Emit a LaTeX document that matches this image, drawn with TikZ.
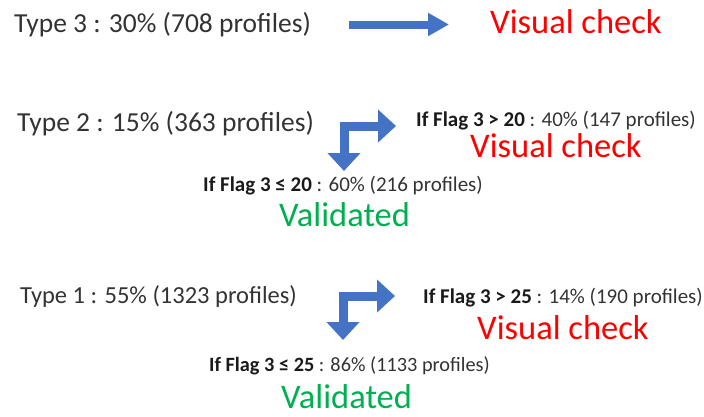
\documentclass[tikz,border=0pt]{standalone}
\usepackage{fontspec}
\setmainfont{Carlito}
\usetikzlibrary{arrows.meta}
\definecolor{txt}{HTML}{333333}
\definecolor{boldtxt}{HTML}{1A1A1A}
\definecolor{vred}{HTML}{FF0000}
\definecolor{vgreen}{HTML}{00B050}
\definecolor{arrblue}{HTML}{4472C4}
\tikzset{
  typelbl/.style={anchor=base west, inner sep=0pt, text=txt, font=\fontsize{27.5}{30}\selectfont},
  condlbl/.style={anchor=base west, inner sep=0pt, text=txt, font=\fontsize{21}{24}\selectfont},
  checklbl/.style={anchor=base west, inner sep=0pt, text=vred, font=\fontsize{34.5}{38}\selectfont},
  validlbl/.style={anchor=base west, inner sep=0pt, text=vgreen, font=\fontsize{34.5}{38}\selectfont},
  bigarrow/.style={draw=arrblue, line width=8pt, -{Triangle[width=22pt,length=21pt]}},
  bentarrow/.style={draw=arrblue, line width=9pt, line join=miter,
    {Triangle[width=32pt,length=18pt]}-{Triangle[width=32pt,length=18pt]}}
}
\newcommand{\flagb}[1]{\textcolor{boldtxt}{\textbf{#1}}}
\begin{document}
\begin{tikzpicture}[x=1pt,y=-1pt]
\useasboundingbox (0,0) rectangle (704,416);
% row 3
\node[typelbl] (t3) at (14,32) {Type 3 : 30\% (708 profiles)};
\node[checklbl] (v3) at (490,33) {Visual check};
\coordinate (a3s) at (349,24.5);
\coordinate (a3e) at (449,24.5);
\draw[bigarrow] (a3s) -- (a3e);
% row 2
\node[typelbl] (t2) at (17,131) {Type 2 : 15\% (363 profiles)};
\node[condlbl] (c2hi) at (416,126) {\flagb{If Flag 3 > 20} : 40\% (147 profiles)};
\node[checklbl] (v2) at (470,157) {Visual check};
\node[condlbl] (c2lo) at (203,191) {\flagb{If Flag 3 ≤ 20} : 60\% (216 profiles)};
\node[validlbl] (ok2) at (279,226) {Validated};
\coordinate (b2d) at (344,171);
\coordinate (b2r) at (396,126);
\draw[bentarrow] (b2d) |- (b2r);
% row 1
\node[typelbl, font=\fontsize{24.5}{28}\selectfont] (t1) at (20,303) {Type 1 : 55\% (1323 profiles)};
\node[condlbl] (c1hi) at (423,303) {\flagb{If Flag 3 > 25} : 14\% (190 profiles)};
\node[checklbl] (v1) at (477,339) {Visual check};
\node[condlbl, font=\fontsize{20.3}{24}\selectfont] (c1lo) at (209,371) {\flagb{If Flag 3 ≤ 25} : 86\% (1133 profiles)};
\node[validlbl] (ok1) at (281,408) {Validated};
\coordinate (b1d) at (343,340);
\coordinate (b1r) at (395,296);
\draw[bentarrow] (b1d) |- (b1r);
\end{tikzpicture}
\end{document}
